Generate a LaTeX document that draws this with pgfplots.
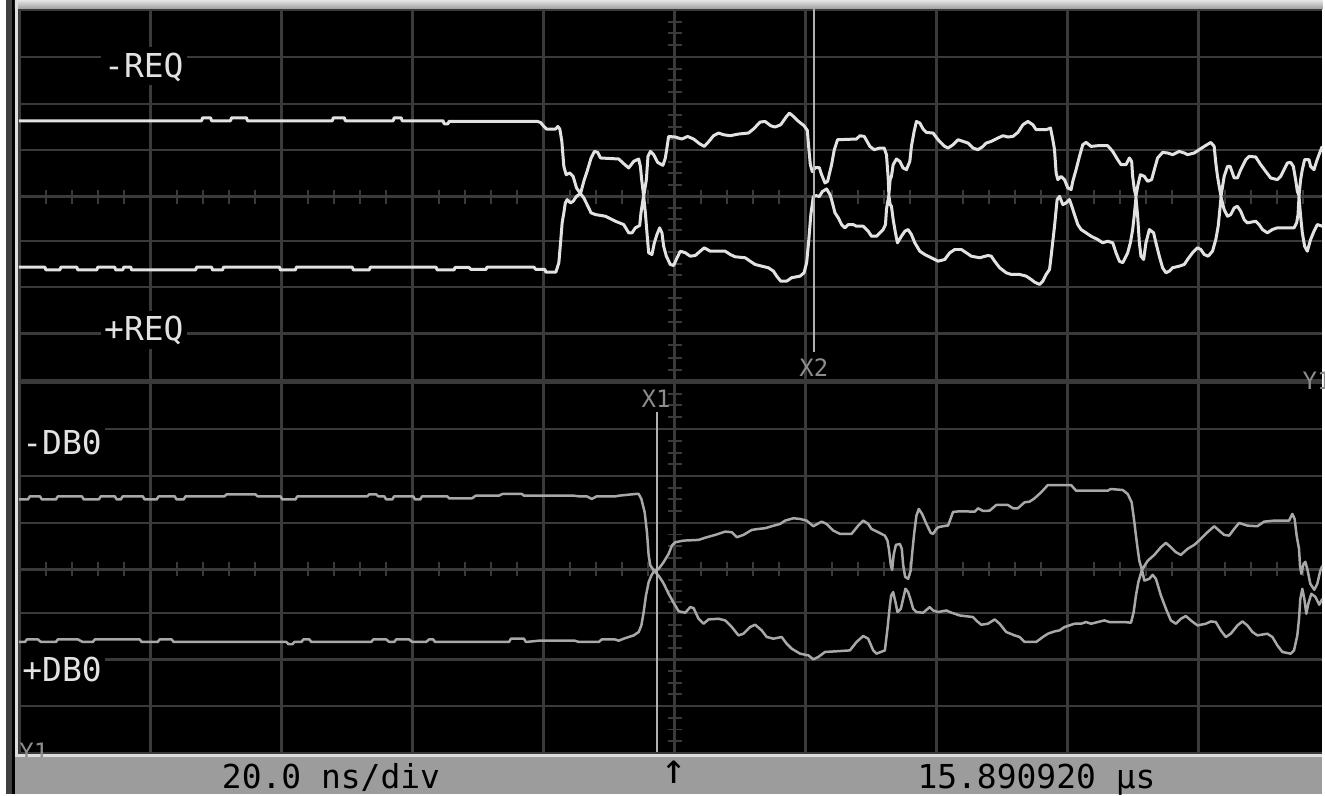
\documentclass[border=0pt]{standalone}
\usepackage{pgfplots}
\pgfplotsset{compat=1.18}
\usepackage{fontspec}
\newfontfamily\scopefont{DejaVu Sans Mono}
\definecolor{gridc}{HTML}{3A3A3A}
\definecolor{trA}{HTML}{E2E2E2}
\definecolor{trB}{HTML}{A8A8A8}
\definecolor{curs}{HTML}{B0B0B0}
\definecolor{tagc}{HTML}{8C8C8C}
\definecolor{barc}{HTML}{9C9C9C}
\definecolor{edgec}{HTML}{DCDCDC}
\definecolor{framec}{HTML}{404040}
\newcommand{\lbl}{\scopefont\fontsize{16.5}{16.5}\selectfont}
\newcommand{\tag}{\scopefont\fontsize{12}{12}\selectfont}
\begin{document}
\begin{tikzpicture}
% ---------- screen frame and graticule (screen pixel units) ----------
\begin{scope}[x=0.5pt,y=-0.5pt]
\fill[white] (0,0) rectangle (6,796);
\fill[framec] (6,0) rectangle (12,796);
\fill[black] (12,0) rectangle (15,796);
\shade[top color=white!90!black, bottom color=black!40] (15,0) rectangle (1325,9.5);
\fill[edgec] (15,0) rectangle (18,759);
\fill[black] (18,9) rectangle (1325,756);
\fill[edgec] (15,756) rectangle (1325,759);
% divisions
\foreach \x in {19.4,150.7,282,413.3,544.6,675.9,807.2,938.5,1069.8,1201.1}
  \draw[gridc,line width=1.25pt] (\x,9) -- (\x,755.7);
\foreach \y in {10,57,104,150.5,197,241.5,287.5,334,430,477,524,570.5,614.5,661,707.5,754.5}
  \draw[gridc,line width=1.25pt] (18,\y) -- (1325,\y);
\draw[gridc,line width=2.75pt] (18,382.5) -- (1325,382.5);
% minor ticks on the centre lines
\foreach \x in {45.7,71.9,98.2,124.4,177.0,203.2,229.5,255.7,308.3,334.5,360.8,387.0,
  439.6,465.8,492.1,518.3,570.9,597.1,623.4,649.6,702.2,728.4,754.7,780.9,833.5,859.7,
  886.0,912.2,964.8,991.0,1017.3,1043.5,1096.1,1122.3,1148.6,1174.8,1227.4,1253.6,1279.9,1306.1}
  {\draw[gridc,line width=1pt] (\x,190) -- (\x,204);
   \draw[gridc,line width=1pt] (\x,563.5) -- (\x,577.5);}
\foreach \y in {21.75,33.5,45.25,68.75,80.5,92.25,115.6,127.25,138.9,162.1,173.75,185.4,
  208.1,219.25,230.4,253,264.5,276,299.1,310.75,322.4,346.1,358.25,370.4,
  394.4,406.25,418.1,441.75,453.5,465.25,488.75,500.5,512.25,535.6,547.25,558.9,
  581.5,592.5,603.5,626.1,637.75,649.4,672.6,684.25,695.9,719.25,731,742.75}
  \draw[gridc,line width=1pt] (669,\y) -- (683,\y);
\end{scope}
% ---------- acquired traces ----------
\begin{axis}[at={(0,0)}, anchor=north west, scale only axis,
  width=662.5pt, height=398pt,
  xmin=0, xmax=1325, ymin=0, ymax=796, y dir=reverse,
  hide axis, clip=true]
% REQ pair, upper trace
\addplot[trA, line width=1.5pt, line join=round] coordinates {
(19,121) (202,121) (203,118) (211,118) (212,121) (231,121) (232,118) (247,118) (248,121)
(333,121) (334,118) (345,118) (346,121) (394,121) (395,118) (402,118) (403,121) (444,121)
(445,124) (449,124) (450,121.5) (538,121.5) (541.7,122.7) (545,126.7) (547.7,129.3)
(556.7,129.3) (559,126.7) (561,129.3) (563,141.7) (565,166.7) (567.3,175) (571,173.3)
(574.3,176.7) (577.7,188.3) (581.7,194) (585,181.7) (588.3,171.7) (592.3,158.3)
(595.7,151.7) (599,152.7) (601.7,158.3) (620,159.3) (625,164) (630,168.3) (635,161.7)
(640,159.3) (641.7,166.7) (643,180) (645,196.7) (647.7,180) (649.3,156.7) (651.7,151.7)
(655,155) (659,162.7) (664.3,165.7) (666.7,158.3) (668.3,148.3) (670,136.7) (676.7,137.3)
(683.3,139.3) (689,136.7) (695,139.3) (701,144) (705.7,146.7) (709,143.3) (715,136)
(720,133.3) (725,135) (731.7,136) (740,134.3) (750,133.3) (755,129.3) (761.7,122.3)
(766.7,121.7) (772.3,126) (776.7,127.3) (782.3,125) (787.7,117.3) (791,113.3) (794.3,116)
(799,120.7) (805.7,126) (809,130.7) (810.3,146.7) (812,165) (814,172) (817,168) (821,168)
(823.3,175) (826.7,183.3) (829.3,181.7) (833.3,165) (836,150) (839.3,140) (858.3,139.3)
(861.7,136) (866,136.7) (871.7,146.7) (876,150) (881.7,148.3) (886,148.3) (888.3,155)
(890,178) (890.7,195) (892,180) (893.3,176.7) (895,165) (898.3,159.3) (901.7,161.7)
(905,168.3) (908.3,170) (911.7,161.7) (913.3,146.7) (916,131.7) (918.3,121.7) (921.7,123.3)
(925,129.3) (928.3,132.7) (935,133.3) (940,140) (946.7,146.7) (950,148.3) (955,145)
(960,140) (965,141.7) (970,143.3) (975,148.3) (980,150) (985,146.7) (988.3,143.3)
(993.3,141.7) (1000,138.3) (1005,136) (1010,137.3) (1015,136.7) (1020,132.7) (1025,125)
(1030,121.7) (1035,125) (1038.3,130) (1048.3,130) (1052.7,128.3) (1055,140) (1056.7,150)
(1058.3,173.3) (1060,180) (1063.3,176.7) (1066.7,180) (1070,188.3) (1073.3,190) (1075,181.7)
(1078.3,170) (1081.7,156.7) (1085,145) (1088.3,142.7) (1093.3,146.7) (1100,146) (1110,146)
(1115,151.7) (1120,160) (1123.3,165) (1128.3,165) (1131.7,158.3) (1134,161.7) (1135,176.7)
(1136.7,190) (1138.3,196.7) (1140,186.7) (1142.7,175) (1146.7,176.7) (1150,181.7) (1154,180)
(1156.7,170) (1160,158.3) (1165,152.7) (1170,153.3) (1175,155) (1181.7,151.7) (1186.7,153.3)
(1190,155) (1196.7,153.3) (1201.7,150) (1206.7,146.7) (1213.3,142.7) (1216.7,146.7)
(1218.3,163.3) (1220,176.7) (1221.7,186.7) (1223.5,196.5) (1226.7,176.7) (1230,166.7)
(1232.7,166.7) (1236.7,178.3) (1240,178.3) (1243.3,170) (1248.3,160) (1251.7,156.7)
(1258.3,157.3) (1263.3,165) (1268.3,171.7) (1273.3,178.3) (1280,180) (1283.3,176.7)
(1286.7,170) (1290,163.3) (1293.3,162.7) (1296,166.7) (1298.3,180) (1300,191.7) (1301.7,196)
(1303.3,180) (1305,170) (1307.3,160) (1311.7,160) (1313.3,166.7) (1316.7,170) (1319.3,161.7)
(1321.7,155) (1325,146.7)};
% REQ pair, lower trace
\addplot[trA, line width=1.5pt, line join=round] coordinates {
(19,267.7) (45,267.7) (46,270.5) (60,270.5) (61,267.7) (77,267.7) (78,270.5) (97,270.5)
(98,267.7) (115,267.7) (116,270.5) (123,270.5) (124,267.7) (131,267.7) (132,270.5)
(196,270.5) (197,267.7) (212,267.7) (213,270.5) (223,270.5) (224,267.7) (280,267.7)
(281,270.5) (296,270.5) (297,267.7) (353,267.7) (354,270.5) (370,270.5) (371,267.7)
(437,267.7) (438,270.5) (455,270.5) (456,268) (470,268) (472,270) (487,270) (488,267.7)
(535,267.7) (537,270) (546,270) (547,272.7) (557,272.7) (560,263.3) (561.7,243.3)
(563.3,223.3) (565,213.3) (566.5,203.3) (568.3,200) (571.7,203.3) (574.3,201.7)
(577.7,196.7) (581.7,194) (585,198.3) (588.3,205) (592.3,213.3) (596.7,215) (606.7,216.7)
(616.7,221.7) (625,225) (630,233.3) (633.3,233.3) (636.7,228.3) (641,226) (642.3,213.3)
(644.3,200) (645,196.7) (646.7,213.3) (648.3,233.3) (650,253.3) (653.3,255) (655.7,243.3)
(658.3,235) (661,228.3) (663.3,233.3) (665,246.7) (667.7,256.7) (671.7,265) (675,266)
(677.7,260) (681.7,251.7) (686.7,253.3) (691.7,256.7) (696.7,256) (701.7,251.7)
(705.7,248.3) (711.7,251.7) (726.7,251.7) (731.7,255) (736.7,257.3) (746.7,258.3)
(751.7,261.7) (756.7,265) (763.3,266.7) (770,268.3) (775,271.7) (778.3,276.7) (782.3,281.7)
(788.3,281.7) (793.3,278.3) (801.7,276.7) (805.7,273.3) (808.3,263.3) (810.5,240)
(812.5,215) (815,197) (818,196) (821,197) (824,192) (828.3,189.3) (831.7,195) (833.3,200)
(836.7,213.3) (840,218.3) (843.3,225) (846.7,228.3) (850,225) (855,225) (858.3,226.7)
(865,226.7) (870,231.7) (873.3,236.7) (878.3,236.7) (881.7,233.3) (885,230) (887.3,225)
(888.3,210) (889.3,203.3) (890.7,196) (892,205) (893.3,206.7) (895,220) (897.3,233.3)
(899.3,243.3) (903.3,236.7) (906.7,231.7) (910,230) (913.3,235) (916.7,243.3) (921.7,251.7)
(926.7,255) (933.3,258.3) (940,261.7) (946.7,260) (951.7,253.3) (956.7,250) (963.3,250)
(968.3,253.3) (973.3,256.7) (981.7,258.3) (990,256) (993.3,256.7) (996.7,261.7)
(1001.7,268.3) (1008.3,273.3) (1013.3,275) (1021.7,275) (1028.3,276.7) (1033.3,280)
(1036.7,282.7) (1041.7,285) (1045,281.7) (1048.3,275) (1051.7,270) (1053.3,256.7)
(1056.7,226.7) (1059.3,200) (1061.7,196.7) (1065,205) (1068.3,203.3) (1071.7,200)
(1074,206.7) (1076.7,215) (1080,225) (1083.3,230) (1088.3,233.3) (1093.3,236.7) (1100,240)
(1105,243.3) (1110,241.7) (1115,243.3) (1118.3,253.3) (1121.7,261.7) (1125,263.3)
(1130,253.3) (1132.7,243.3) (1135,230) (1136.7,215) (1138.3,198) (1140,216.7) (1141.7,243.3)
(1143.3,256.7) (1146,260) (1148.3,243.3) (1151.7,230) (1156,233.3) (1158.3,243.3)
(1161.7,256.7) (1165,268.3) (1168.3,273.3) (1171.7,271.7) (1175,268.3) (1181.7,266.7)
(1186.7,265) (1190,260) (1195,253.3) (1200,248.3) (1203.3,250) (1206.7,255) (1210.7,256.7)
(1215,251.7) (1218.3,240) (1220.7,226.7) (1222.7,206.7) (1223.5,197.5) (1226.7,210)
(1230,216.7) (1233.3,215) (1236.7,208.3) (1240,206.7) (1243.3,211.7) (1246.7,220)
(1250,223.3) (1258.3,221.7) (1261.7,225) (1265,230) (1270,233.3) (1275,230) (1280,228.3)
(1290,228.3) (1296.7,228.3) (1299.3,223.3) (1300.7,215) (1301.7,197) (1303.3,216.7)
(1305,233.3) (1307.3,246.7) (1310,251.7) (1313.3,240) (1316.7,231.7) (1320,225) (1325,226.7)};
% DB0 pair, upper trace
\addplot[trB, line width=1.25pt, line join=round] coordinates {
(19,500.5) (28,500.5) (30,497.3) (40,497.3) (42,500.5) (56,500.5) (58,497.3) (82,497.3)
(84,500.5) (99,500.5) (101,497.3) (115,497.3) (117,500.5) (121,500.5) (123,497.3)
(143,497.3) (145,500.5) (157,500.5) (159,497.3) (175,497.3) (177,500.5) (184,500.5)
(186,497.3) (225,497.3) (227,495.3) (256,495.3) (258,497.3) (281,497.3) (283,500.5)
(296,500.5) (298,497.3) (368,497.3) (370,495.3) (377,495.3) (379,497.3) (385,497.3)
(387,500.5) (393,500.5) (395,497.3) (414,497.3) (416,500.5) (421,500.5) (423,497.3)
(448,497.3) (450,499.3) (473,499.3) (476.7,496.7) (500,496.7) (503.3,495) (523,495)
(525,496.7) (575,496.7) (580,497.3) (588,497.3) (593,500) (598,497.3) (617,497.3)
(620,496.7) (636.7,495) (640,495) (642.7,500) (646,513.3) (648.3,533.3) (650,556.7)
(651.7,566.7) (655.5,572) (660,570) (665,563.3) (670,555) (673.3,546.7) (676.7,543.3)
(685,541.7) (700,541) (708.3,538.3) (716.7,536) (726.7,532.7) (733.3,533.3) (738.3,538.3)
(745,536) (753.3,531) (760,530) (766.7,529.3) (773.3,527.3) (781.7,525) (786.7,521.7)
(795,519.3) (801.7,520) (808.3,521.7) (815,527.3) (823.3,522.7) (828.3,525) (835,531.7)
(841.7,535) (853.3,535) (860,526.7) (865,521.7) (870,525) (873.3,530) (880,533.3)
(886.7,536.7) (889.3,541.7) (890.7,550) (892.7,566.7) (894,571) (895.5,556) (897.7,546)
(901.7,545) (903.7,550) (905,566) (907,578) (910,580) (912.5,572) (914,555) (916,535)
(918.3,516.7) (920.7,510) (924,515) (928.3,525) (932.7,534) (935,535) (938.3,530)
(940,528.3) (948.3,526.7) (950,526.7) (955,513) (961.7,512.3) (976.7,512.7) (980,509.3)
(985,512) (991.7,511.7) (998.3,506) (1010,506) (1015,509.3) (1020,509.3) (1026.7,503.3)
(1031.7,502.7) (1036.7,499.3) (1043.3,493.3) (1050,486) (1073.3,486) (1078.3,491.7)
(1110,491.7) (1113,490) (1125,491) (1130,495) (1134,503.3) (1136.7,523.3) (1138.3,536.7)
(1140,550) (1141.7,562) (1144.3,571) (1150,562) (1156.7,556) (1163.3,548.3) (1168.3,544)
(1173.3,548.3) (1178.3,553.3) (1183.3,556) (1190,550) (1196.7,546) (1203.3,540) (1210,533.3)
(1216.7,527.3) (1221.7,531.7) (1226.7,536) (1231.7,536.7) (1236.7,530) (1241.7,524)
(1250,526.7) (1260,527.3) (1266.7,522.7) (1276.7,521.7) (1291.7,521.7) (1295,515)
(1297.3,520) (1299.3,536.7) (1301.7,550) (1302.7,566.7) (1304,575) (1306,566) (1308,563)
(1310,570) (1313,585) (1317,591) (1320,585) (1323,572) (1325,567)};
% DB0 pair, lower trace
\addplot[trB, line width=1.25pt, line join=round] coordinates {
(19,643.3) (25,643.3) (27,640.7) (38,640.7) (41,643.3) (56,643.3) (58,640.7) (78,640.7)
(83,643.3) (93,643.3) (95,640.7) (140,640.7) (142,643.3) (158,643.3) (160,640.7)
(172,640.7) (174,643.3) (287,643.3) (289,645.5) (293,645.5) (295,643.3) (302,643.3)
(304,640.7) (310,640.7) (312,643.3) (372,643.3) (374,640.7) (387,640.7) (390,643.3)
(395,643.3) (397,640.7) (410,640.7) (413,643.3) (427,643.3) (430,640.7) (434,640.7)
(436,643.3) (510,643.3) (512,640) (525,640) (527,643.3) (540,642) (576,642) (580,643.3)
(600,643.3) (603,640.7) (616,640.7) (620,642) (625,640) (630,638.3) (635,636.7) (640,633.3)
(642.7,626.7) (645,613.3) (647.3,596.7) (650,583.3) (652.7,576.7) (655.5,572) (660,577)
(664,583) (666,586.7) (670,595) (675,604) (680,612.5) (686.7,614) (691.7,608.3) (695,609.3)
(700,620) (705,625) (710,620.7) (720,620) (726.7,621.7) (733.3,628.3) (740,636.7) (745,635)
(751.7,628.3) (756.7,626) (763.3,631.7) (768.3,638.3) (775,640) (783.3,638.3) (788.3,645)
(793.3,650) (801.7,655) (810,656.7) (815,660.7) (820,658.3) (826.7,653.3) (836.7,652.7)
(851.7,651.7) (858.3,643.3) (865,637.3) (870,640) (875,651.7) (878.3,655) (886.7,651.7)
(889.3,630) (891.7,606.7) (893,596.7) (895,593.3) (897.3,603.3) (899.3,613.3) (902.7,610)
(905,600) (907.3,590) (910,593.3) (912.7,601.7) (915,610) (918.3,613.3) (925,614)
(931.7,608.3) (935,611.7) (940,613.3) (948.3,611.7) (951.7,613.3) (961.7,616.7) (975,618.3)
(980,623.3) (983.3,626) (990,625) (996.7,620.7) (1001.7,625) (1008.3,633.3) (1016.7,636.7)
(1021.7,638.3) (1026.7,643.3) (1038.3,643.3) (1045,638.3) (1050,635) (1056.7,632.7)
(1061.7,631.7) (1066.7,628.3) (1076.7,625) (1083.3,625) (1088.3,623.3) (1093.3,625)
(1100,623.3) (1106.7,621.7) (1111.7,623.3) (1126.7,623.3) (1133.3,624) (1136,613.3)
(1138.3,596.7) (1140.7,583.3) (1144.3,571) (1146.7,581.7) (1151.7,580) (1155,576)
(1158.3,580) (1163.3,596.7) (1168.3,610) (1173.3,621.7) (1178.3,625) (1183.3,620)
(1188.3,617.3) (1193.3,621.7) (1200,626.7) (1208.3,625) (1213.3,622.7) (1218.3,623.3)
(1223.3,631.7) (1228.3,638.3) (1233.3,635) (1240,626.7) (1245,622.7) (1250,626.7)
(1255,633.3) (1260,636.7) (1270,635) (1275,638.3) (1280,646.7) (1285,653.3) (1293.3,655)
(1296.7,651.7) (1300,636.7) (1301.7,620) (1303,600) (1305,590) (1307,600) (1309,615)
(1311,605) (1314,595) (1318,598) (1322,606) (1325,600)};
% time cursors
\addplot[curs, line width=1.25pt] coordinates {(815.7,9.5) (815.7,353)};
\addplot[curs, line width=1.25pt] coordinates {(658.3,413) (658.3,754)};
\end{axis}
% ---------- channel names, cursor tags, status bar ----------
\begin{scope}[x=0.5pt,y=-0.5pt]
\fill[black] (101,47) rectangle (187,85);
\fill[black] (101,312) rectangle (187,350);
\fill[black] (21,418) rectangle (105,462);
\fill[black] (21,652) rectangle (105,692);
\node[anchor=base west, inner sep=0, text=trA, font=\lbl] at (104,78) {-REQ};
\node[anchor=base west, inner sep=0, text=trA, font=\lbl] at (104,341.5) {+REQ};
\node[anchor=base west, inner sep=0, text=trA, font=\lbl] at (22,455) {-DB0};
\node[anchor=base west, inner sep=0, text=trA, font=\lbl] at (22,683.3) {+DB0};
\node[anchor=base, inner sep=0, text=tagc, font=\tag] at (815.5,377) {X2};
\node[anchor=base, inner sep=0, text=tagc, font=\tag] at (657.5,408) {X1};
\node[overlay, anchor=base west, inner sep=0, text=tagc, font=\tag] at (1305,390) {Y1};
\node[anchor=base west, inner sep=0, text=tagc, font=\tag] at (19,762) {Y1};
\fill[barc] (15,759) rectangle (1325,796);
\node[anchor=base west, inner sep=0, text=black, font=\lbl] at (222,790) {20.0 ns/div};
\node[anchor=center, inner sep=0, text=black, font=\scopefont\fontsize{21}{21}\selectfont] at (676,774) {↑};
\node[anchor=base west, inner sep=0, text=black, font=\lbl] at (919,790) {15.890920 µs};
\end{scope}
\end{tikzpicture}
\end{document}
